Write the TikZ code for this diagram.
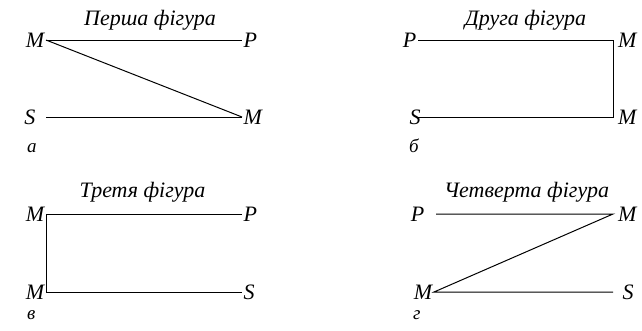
\documentclass[tikz,border=0pt]{standalone}
\usepackage{fontspec}
\setmainfont{Liberation Serif}
\begin{document}
\begin{tikzpicture}[x=1pt,y=-1pt,
  lbl/.style={font=\fontsize{22}{26}\selectfont\itshape, inner sep=1.5pt},
  gap/.style={inner xsep=5pt},
  ttl/.style={font=\fontsize{22}{26}\selectfont\itshape, inner sep=0pt, anchor=base},
  sub/.style={font=\fontsize{19}{22}\selectfont\itshape, inner sep=0pt, anchor=base west},
  ln/.style={line width=1pt}]
\useasboundingbox (0,0) rectangle (642,330);
% Panel a
\node[ttl] (ta) at (150,25) {Перша фігура};
\node[lbl, anchor=east] (Ma1) at (46,40) {M};
\node[lbl, anchor=west] (Pa) at (242,40) {P};
\node[lbl, anchor=east] (Sa) at (37,117) {S};
\node[lbl, anchor=west] (Ma2) at (242,117) {M};
\node[sub] (la) at (27,152) {а};
\draw[ln] (Ma1.east) -- (Pa.west);
\draw[ln] (Ma1.east) -- (Ma2.west);
\draw[ln] ([xshift=9pt]Sa.east) -- (Ma2.west);
% Panel b
\node[ttl] (tb) at (525.5,25) {Друга фігура};
\node[lbl, anchor=east] (Pb) at (418,40) {P};
\node[lbl, gap, anchor=west] (Mb1) at (613,40) {M};
\node[lbl, anchor=center] (Sb) at (415,117) {S};
\node[lbl, gap, anchor=west] (Mb2) at (613,117) {M};
\node[sub] (lb) at (409,152) {б};
\draw[ln] (Pb.east) -- (Mb1.west) -- (Mb2.west) -- ([xshift=3pt]Sb.center);
% Panel c
\node[ttl] (tc) at (142.5,197) {Третя фігура};
\node[lbl, anchor=east] (Mc1) at (46,214) {M};
\node[lbl, anchor=west] (Pc) at (242,214) {P};
\node[lbl, anchor=east] (Mc2) at (46,292) {M};
\node[lbl, anchor=west] (Sc) at (242,292) {S};
\node[sub] (lc) at (27,319) {в};
\draw[ln] (Pc.west) -- (Mc1.east) -- (Mc2.east) -- (Sc.west);
% Panel d
\node[ttl] (td) at (526.5,197) {Четверта фігура};
\node[lbl, anchor=east] (Pd) at (426,214) {P};
\node[lbl, gap, anchor=west] (Md1) at (613,214) {M};
\node[lbl, anchor=east] (Md2) at (434,292) {M};
\node[lbl, anchor=west] (Sd) at (621,292) {S};
\node[sub] (ld) at (413,319) {г};
\draw[ln] ([xshift=10pt]Pd.east) -- (Md1.west) -- (Md2.east) -- ([xshift=-8pt]Sd.west);
\end{tikzpicture}
\end{document}
